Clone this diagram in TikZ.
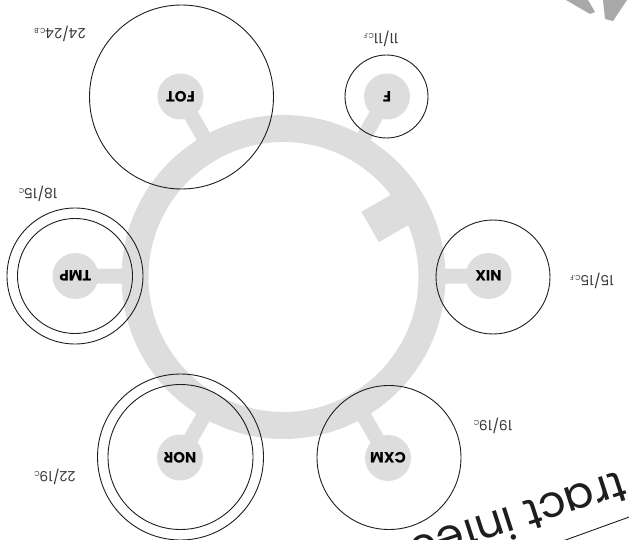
\documentclass[tikz,border=0pt]{standalone}
\usepackage{fontspec}
\setmainfont{Poppins}
\usetikzlibrary{calc}
\definecolor{ringgray}{HTML}{DDDDDD}
\definecolor{wgray}{HTML}{A8A8A8}
\definecolor{ink}{HTML}{1E1E1E}
\definecolor{numink}{HTML}{3A3A3A}
\begin{document}
\begin{tikzpicture}[x=1pt,y=-1pt,
  hub/.style={circle,fill=ringgray,minimum size=46pt,inner sep=0pt,
    font=\fontsize{15}{15}\selectfont\bfseries,rotate=180},
  orbit/.style={circle,draw=ink,line width=0.9pt,inner sep=0pt},
  spoke/.style={draw=ringgray,line width=15pt},
  count/.style={rotate=180,text=numink,inner sep=0pt,font=\fontsize{14}{14}\selectfont}
]
\useasboundingbox (0,0) rectangle (629,540);
\coordinate (C) at (283.5,277);
% hub centres
\coordinate (pFOT) at (180.5,96.5);
\coordinate (pF) at (387,96.5);
\coordinate (pTMP) at (75.5,276);
\coordinate (pNIX) at (488.5,276);
\coordinate (pCXM) at (388,458);
\coordinate (pNOR) at (180,457.5);
% spokes
\foreach \p in {pFOT,pF,pTMP,pNIX,pCXM,pNOR}
  \draw[spoke] (\p) -- ($(C)!148pt!(\p)$);
% ring
\draw[ringgray,line width=27pt] (C) circle[radius=148.5pt];
% notch
\begin{scope}[shift={(C)},rotate=30]
  \fill[ringgray] (100,-17.5) rectangle (142,17.5);
\end{scope}
% hubs
\node[hub] (gFOT) at (pFOT) {FOT};
\node[hub] (gF) at (pF) {F};
\node[hub] (gTMP) at (pTMP) {TMP};
\node[hub] (gNIX) at (pNIX) {NIX};
\node[hub] (gCXM) at (pCXM) {CXM};
\node[hub] (gNOR) at (pNOR) {NOR};
% orbits
\node[orbit,minimum size=184pt] (oFOT) at (181.5,97) {};
\node[orbit,minimum size=83pt] (oF) at (386.5,96.5) {};
\node[orbit,minimum size=136pt] (oTMP) at (75,276) {};
\node[orbit,minimum size=115pt] (iTMP) at (75,276) {};
\node[orbit,minimum size=114pt] (oNIX) at (493,277) {};
\node[orbit,minimum size=144pt] (oCXM) at (389,457.5) {};
\node[orbit,minimum size=166pt] (oNOR) at (180.5,457) {};
\node[orbit,minimum size=145pt] (iNOR) at (180.5,457) {};
% counts
\node[count] (cFOT) at (60,34) {24/24{\fontsize{7}{7}\selectfont C.B}};
\node[count] (cF) at (381,39) {11/11{\fontsize{7}{7}\selectfont C.F}};
\node[count] (cTMP) at (38,193.5) {18/15{\fontsize{7}{7}\selectfont C}};
\node[count] (cNIX) at (592,281) {15/15{\fontsize{7}{7}\selectfont C.F}};
\node[count] (cCXM) at (493,426) {19/19{\fontsize{7}{7}\selectfont C}};
\node[count] (cNOR) at (55,477) {22/19{\fontsize{7}{7}\selectfont C}};
% partial title
\node[rotate=198,anchor=base west,inner sep=0pt,text=ink,
  font=\fontsize{44}{44}\selectfont] (title) at (621,470) {tract infec};
\coordinate (l1) at (560,542);
\coordinate (l2) at (632,516);
\draw[ink,line width=0.9pt] (l1) -- (l2);
% grey fragment top right
\fill[wgray] (566,0) -- (588,0) -- (595,12) -- (590,14) -- cycle;
\fill[wgray] (603,0) -- (627,0) -- (613,21) -- (605,19) -- cycle;
\end{tikzpicture}
\end{document}
